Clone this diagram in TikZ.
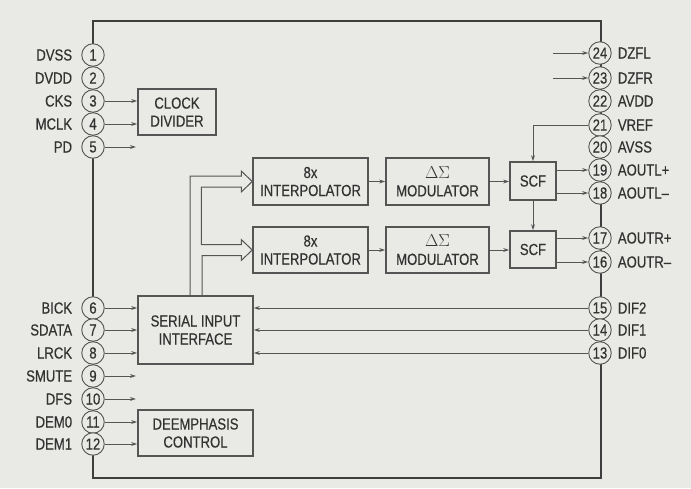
\documentclass[tikz,border=0pt]{standalone}
\usepackage{fontspec}
\setmainfont{Liberation Sans}[FakeStretch=0.82,FakeBold=0.4]
\usetikzlibrary{arrows.meta,calc}
\definecolor{bgc}{RGB}{233,233,229}
\definecolor{txt}{RGB}{50,50,50}
\definecolor{ln}{RGB}{85,85,85}
\definecolor{chip}{RGB}{62,62,62}
\begin{document}
\begin{tikzpicture}[x=1pt,y=-1pt,
  pinc/.style={circle,draw=ln,line width=0.9pt,fill=bgc,minimum size=22.5pt,inner sep=0pt,font=\fontsize{16}{16}\selectfont,text=txt},
  lbl/.style={font=\fontsize{16}{16}\selectfont,text=txt,inner sep=0pt},
  blk/.style={draw=ln,line width=1.5pt,fill=bgc,align=center,font=\fontsize{16}{18}\selectfont,text=txt,inner sep=0pt},
  conn/.style={draw=ln,line width=1pt,-{Stealth[length=6pt,width=3.8pt]}},
  bus/.style={draw=ln,line width=1pt,line join=miter}]
\fill[bgc] (0,0) rectangle (691,488);
\useasboundingbox (0,0) rectangle (691,488);
% chip outline
\draw[chip,line width=2.6pt] (93,21) rectangle (601,478);
% left pins
\foreach \n/\y/\t in {1/55/DVSS,2/78/DVDD,3/101/CKS,4/124/MCLK,5/147/PD,6/308/BICK,7/330/SDATA,8/353/LRCK,9/376/SMUTE,10/399/DFS,11/422/DEM0,12/444/DEM1}{
  \node[pinc] (p\n) at (93,\y) {\n};
  \node[lbl,anchor=east] (l\n) at ($(p\n.west)+(-9,0)$) {\t};
}
% right pins
\foreach \n/\y/\t in {24/53/DZFL,23/78/DZFR,22/101/AVDD,21/125/VREF,20/147/AVSS,19/170/AOUTL+,18/193/AOUTL--,17/238/AOUTR+,16/262/AOUTR--,15/308/DIF2,14/330/DIF1,13/353/DIF0}{
  \node[pinc] (p\n) at (600,\y) {\n};
  \node[lbl,anchor=west] (l\n) at ($(p\n.east)+(6,0)$) {\t};
}
% blocks
\node[blk,minimum width=78pt,minimum height=46pt] (clk) at (177,112) {CLOCK\\DIVIDER};
\node[blk,minimum width=115pt,minimum height=68pt] (sii) at (195.5,330) {SERIAL INPUT\\INTERFACE};
\node[blk,minimum width=115pt,minimum height=46pt] (dem) at (195.5,433) {DEEMPHASIS\\CONTROL};
\node[blk,minimum width=115pt,minimum height=47pt] (int1) at (310.5,181.5) {8x\\INTERPOLATOR};
\node[blk,minimum width=103pt,minimum height=47pt] (mod1) at (437.5,181.5) {$\Delta\Sigma$\\MODULATOR};
\node[blk,minimum width=115pt,minimum height=46pt] (int2) at (310.5,250) {8x\\INTERPOLATOR};
\node[blk,minimum width=103pt,minimum height=46pt] (mod2) at (437.5,250) {$\Delta\Sigma$\\MODULATOR};
\node[blk,minimum width=46pt,minimum height=38pt] (scf1) at (533,181) {SCF};
\node[blk,minimum width=46pt,minimum height=37pt] (scf2) at (533,249.5) {SCF};
% free ends
\coordinate (e5) at (136,147);
\coordinate (e9) at (136,376);
\coordinate (e10) at (136,399);
\coordinate (e24) at (553,53);
\coordinate (e23) at (553,78);
% left connectors
\draw[conn] (p3.east) -- (clk.west |- p3);
\draw[conn] (p4.east) -- (clk.west |- p4);
\draw[conn] (p5.east) -- (e5);
\draw[conn] (p6.east) -- (sii.west |- p6);
\draw[conn] (p7.east) -- (sii.west |- p7);
\draw[conn] (p8.east) -- (sii.west |- p8);
\draw[conn] (p9.east) -- (e9);
\draw[conn] (p10.east) -- (e10);
\draw[conn] (p11.east) -- (dem.west |- p11);
\draw[conn] (p12.east) -- (dem.west |- p12);
% right connectors
\draw[conn] (e24) -- (p24.west);
\draw[conn] (e23) -- (p23.west);
\draw[conn] (p15.west) -- (sii.east |- p15);
\draw[conn] (p14.west) -- (sii.east |- p14);
\draw[conn] (p13.west) -- (sii.east |- p13);
\draw[conn] (p21.west) -| (scf1.north);
\draw[conn] (scf1.south) -- (scf2.north);
\draw[conn] (scf1.east |- p19) -- (p19.west);
\draw[conn] (scf1.east |- p18) -- (p18.west);
\draw[conn] (scf2.east |- p17) -- (p17.west);
\draw[conn] (scf2.east |- p16) -- (p16.west);
% signal chain
\draw[conn] (int1.east) -- (mod1.west);
\draw[conn] (mod1.east) -- (scf1.west |- mod1.east);
\draw[conn] (int2.east) -- (mod2.west);
\draw[conn] (mod2.east) -- (scf2.west |- mod2.east);
% bus arrows
\draw[bus] ($(sii.north)+(-5.5,0)$) |- ($(int1.west)+(-11,-5.5)$) -- ++(0,-5) -- (int1.west) -- ($(int1.west)+(-11,10.5)$) -- ++(0,-5) -| ($(int2.west)+(-51,-5.5)$) -- ($(int2.west)+(-11,-5.5)$) -- ++(0,-5) -- (int2.west) -- ($(int2.west)+(-11,10.5)$) -- ++(0,-5) -| ($(sii.north)+(6.5,0)$);
\end{tikzpicture}
\end{document}
